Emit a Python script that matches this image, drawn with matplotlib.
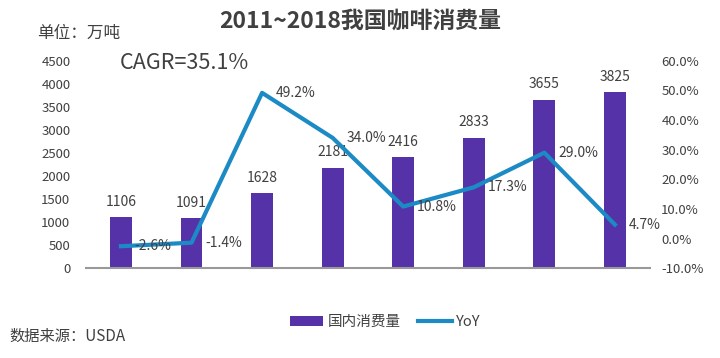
import matplotlib.pyplot as plt
import numpy as np

plt.rcParams['font.family'] = ['Noto Sans CJK SC', 'DejaVu Sans']

years = ['2011', '2012', '2013', '2014', '2015', '2016', '2017', '2018']
consumption = [1106, 1091, 1628, 2181, 2416, 2833, 3655, 3825]  # 万吨
yoy = [-2.6, -1.4, 49.2, 34.0, 10.8, 17.3, 29.0, 4.7]  # %

bar_color = '#5632A8'
line_color = '#1C8AC4'
text_color = '#404040'

fig = plt.figure(figsize=(7.2, 3.58), dpi=100)
ax = fig.add_axes([0.119, 0.251, 0.784, 0.579])
ax2 = ax.twinx()

x = np.arange(len(years))
bars = ax.bar(x, consumption, width=0.31, color=bar_color, label='国内消费量', zorder=2)
ax.set_xlim(-0.5, len(years) - 0.5)
ax.set_ylim(0, 4500)
ax.set_yticks(range(0, 4501, 500))
ax.set_xticks([])
for xi, v in zip(x, consumption):
    ax.annotate(str(v), (xi, v), xytext=(0, 6), textcoords='offset points',
                ha='center', va='bottom', fontsize=10, color=text_color)

line, = ax2.plot(x, yoy, color=line_color, lw=3, label='YoY', zorder=3)
ax2.set_ylim(-10, 60)
ax2.set_yticks(range(-10, 61, 10))
ax2.set_yticklabels([f'{t:.1f}%' for t in range(-10, 61, 10)])
for xi, v in zip(x, yoy):
    ax2.annotate(f'{v:.1f}%', (xi, v), xytext=(10, 0), textcoords='offset points',
                 ha='left', va='center', fontsize=10, color=text_color)

for a in (ax, ax2):
    for s in a.spines.values():
        s.set_visible(False)
    a.tick_params(length=0, labelsize=9.5, labelcolor=text_color)
ax.spines['bottom'].set_visible(True)
ax.spines['bottom'].set_color('#999999')
ax.spines['bottom'].set_linewidth(1.5)
ax.tick_params(axis='y', pad=11)
ax2.tick_params(axis='y', pad=8)

fig.text(0.5, 0.94, '2011~2018我国咖啡消费量', ha='center', va='center',
         fontsize=16.5, fontweight='bold', color=text_color)
fig.text(0.051, 0.907, '单位：万吨', ha='left', va='center', fontsize=12, color=text_color)
fig.text(0.166, 0.823, 'CAGR=35.1%', ha='left', va='center', fontsize=15.5, color=text_color)
fig.text(0.013, 0.06, '数据来源：USDA', ha='left', va='center', fontsize=11, color=text_color)

fig.legend([bars, line], ['国内消费量', 'YoY'], loc='center', bbox_to_anchor=(0.535, 0.1),
           ncol=2, frameon=False, fontsize=10.5, labelcolor=text_color,
           handlelength=2.3, handleheight=0.7, columnspacing=1.2, handletextpad=0.3)

fig.savefig('out.png', dpi=100)
